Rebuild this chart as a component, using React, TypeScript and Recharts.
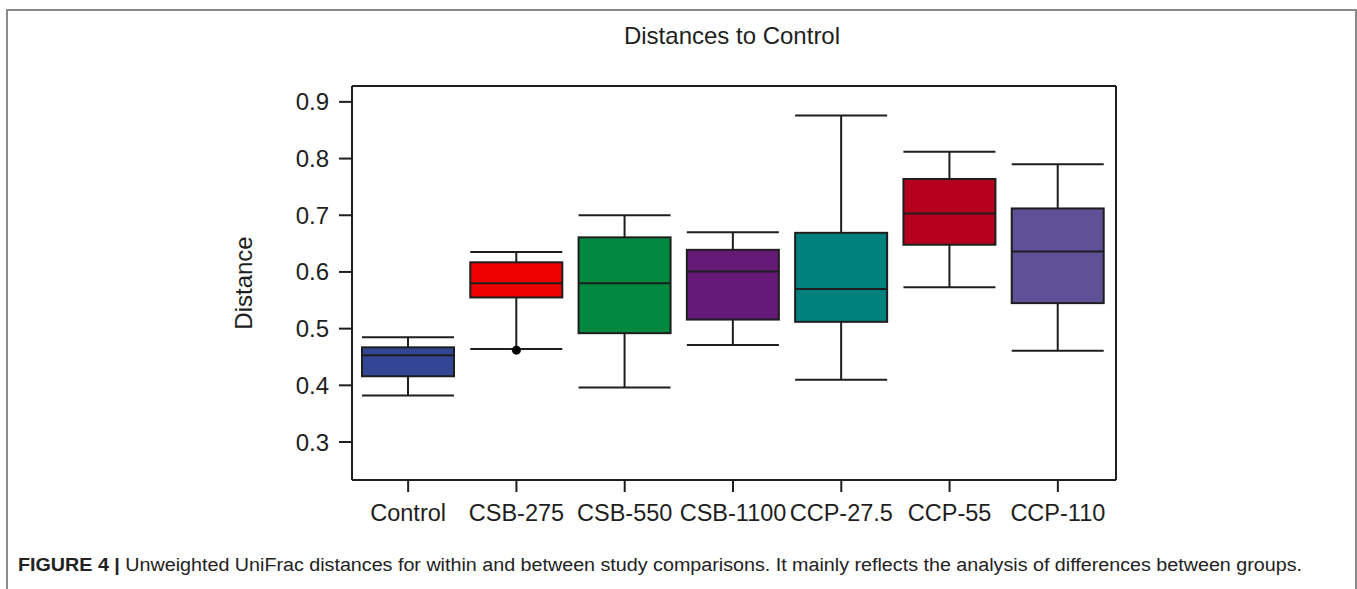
import React from "react";
import {
  ComposedChart,
  Bar,
  Scatter,
  XAxis,
  YAxis,
} from "recharts";

// groups and five-number summaries
const groups = ["Control", "CSB-275", "CSB-550", "CSB-1100", "CCP-27.5", "CCP-55", "CCP-110"];
const whiskerLow = [0.382, 0.464, 0.396, 0.471, 0.41, 0.573, 0.461];
const q1 = [0.416, 0.555, 0.492, 0.516, 0.512, 0.648, 0.545];
const median = [0.453, 0.58, 0.58, 0.601, 0.57, 0.703, 0.636];
const q3 = [0.467, 0.617, 0.661, 0.639, 0.669, 0.764, 0.712];
const whiskerHigh = [0.485, 0.635, 0.7, 0.67, 0.876, 0.812, 0.79];
const outliers = [null, 0.462, null, null, null, null, null];
const boxColors = ["#334595", "#ee0000", "#00893f", "#651a78", "#00807c", "#b5001e", "#5f5198"];

const yTicks = [0.3, 0.4, 0.5, 0.6, 0.7, 0.8, 0.9];
const yDomain = [0.233, 0.928];

const data = groups.map((name, i) => ({
  name,
  range: [whiskerLow[i], whiskerHigh[i]],
  lo: whiskerLow[i],
  q1: q1[i],
  med: median[i],
  q3: q3[i],
  hi: whiskerHigh[i],
  out: outliers[i],
  color: boxColors[i],
}));

const FONT = "'Liberation Sans', Arial, Helvetica, sans-serif";
const INK = "#1e1e1e";

function BoxShape(props: any) {
  const { x, y, width, height, payload } = props;
  if (x == null || y == null) return null;
  const top = Math.min(y, y + height);
  const bot = Math.max(y, y + height);
  const span = payload.hi - payload.lo;
  const py = (v: number) => top + ((payload.hi - v) / span) * (bot - top);
  const cx = x + width / 2;
  const yQ1 = py(payload.q1);
  const yQ3 = py(payload.q3);
  const yMed = py(payload.med);
  return (
    <g stroke={INK} strokeWidth={2}>
      <line x1={cx} x2={cx} y1={top} y2={yQ3} />
      <line x1={cx} x2={cx} y1={yQ1} y2={bot} />
      <line x1={x} x2={x + width} y1={top} y2={top} />
      <line x1={x} x2={x + width} y1={bot} y2={bot} />
      <rect x={x} y={yQ3} width={width} height={yQ1 - yQ3} fill={payload.color} />
      <line x1={x} x2={x + width} y1={yMed} y2={yMed} />
    </g>
  );
}

export default function App() {
  return (
    <div style={{ position: "relative", width: 1357, height: 589, background: "#fff", overflow: "hidden" }}>
      <style>{"body{margin:0;}"}</style>
      <div
        style={{
          position: "absolute",
          left: 6,
          top: 9,
          width: 1351,
          height: 620,
          boxSizing: "border-box",
          border: "2px solid #8a8a8a",
          borderBottom: "none",
        }}
      />
      <ComposedChart
        width={1357}
        height={589}
        data={data}
        margin={{ top: 85, right: 240, bottom: 59, left: 272 }}
        style={{ position: "absolute", left: 0, top: 0 }}
      >
        <XAxis
          dataKey="name"
          interval={0}
          padding={{ left: 2, right: 4 }}
          height={50}
          tickSize={12}
          tickMargin={12}
          axisLine={{ stroke: INK, strokeWidth: 2 }}
          tickLine={{ stroke: INK, strokeWidth: 2 }}
          tick={{ fill: INK, fontSize: 23.5, fontFamily: FONT }}
        />
        <XAxis
          xAxisId="top"
          orientation="top"
          dataKey="name"
          padding={{ left: 2, right: 4 }}
          height={1}
          tick={false}
          tickLine={false}
          axisLine={{ stroke: INK, strokeWidth: 2 }}
        />
        <YAxis
          type="number"
          domain={yDomain}
          ticks={yTicks}
          allowDataOverflow
          width={80}
          tickSize={13}
          tickMargin={10}
          tickFormatter={(v: number) => v.toFixed(1)}
          axisLine={{ stroke: INK, strokeWidth: 2 }}
          tickLine={{ stroke: INK, strokeWidth: 2 }}
          tick={{ fill: INK, fontSize: 24, fontFamily: FONT }}
        />
        <YAxis
          yAxisId="right"
          orientation="right"
          type="number"
          domain={yDomain}
          allowDataOverflow
          width={1}
          tick={false}
          tickLine={false}
          axisLine={{ stroke: INK, strokeWidth: 2 }}
        />
        <Bar dataKey="range" barSize={92} shape={<BoxShape />} isAnimationActive={false} />
        <Scatter
          dataKey="out"
          xAxisId="top"
          yAxisId="right"
          fill="#000"
          isAnimationActive={false}
          shape={(p: any) => (p.cy == null ? null : <circle cx={p.cx} cy={p.cy} r={4.5} fill="#000" />)}
        />
      </ComposedChart>
      <svg
        width={1357}
        height={589}
        style={{ position: "absolute", left: 0, top: 0, pointerEvents: "none" }}
        fontFamily={FONT}
      >
        <text x={732} y={44} textAnchor="middle" fontSize={24} fill={INK}>
          Distances to Control
        </text>
        <text
          x={0}
          y={0}
          transform="translate(252,283) rotate(-90)"
          textAnchor="middle"
          fontSize={24}
          fill={INK}
        >
          Distance
        </text>
        <text x={18} y={571} fontSize={18} fill="#222" textLength={1284} lengthAdjust="spacingAndGlyphs">
          <tspan fontWeight="bold">FIGURE 4 | </tspan>
          <tspan>Unweighted UniFrac distances for within and between study comparisons. It mainly reflects the analysis of differences between groups.</tspan>
        </text>
      </svg>
    </div>
  );
}
